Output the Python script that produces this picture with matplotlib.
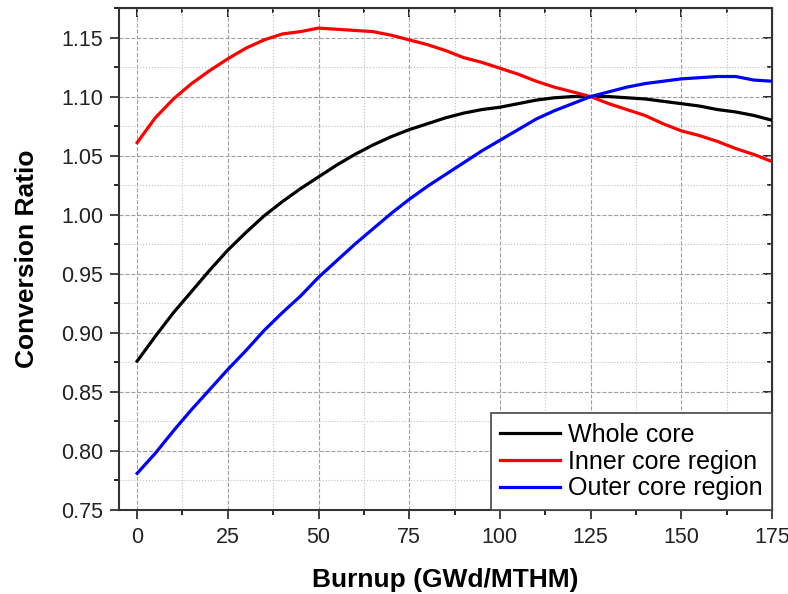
import numpy as np
import matplotlib.pyplot as plt
from matplotlib.ticker import MultipleLocator

plt.rcParams['font.family'] = ['Liberation Sans', 'DejaVu Sans']

# Burnup (GWd/MTHM) ve dönüşüm oranları
burnup = [0, 5, 10, 15, 20, 25, 30, 35, 40, 45, 50, 55, 60, 65, 70, 75, 80, 85,
          90, 95, 100, 105, 110, 115, 120, 125, 130, 135, 140, 145, 150, 155,
          160, 165, 170, 175]
whole_core = [0.876, 0.897, 0.917, 0.935, 0.953, 0.970, 0.985, 0.999, 1.011,
              1.022, 1.032, 1.042, 1.051, 1.059, 1.066, 1.072, 1.077, 1.082,
              1.086, 1.089, 1.091, 1.094, 1.097, 1.099, 1.100, 1.100, 1.100,
              1.099, 1.098, 1.096, 1.094, 1.092, 1.089, 1.087, 1.084, 1.080]
inner_core = [1.061, 1.082, 1.098, 1.111, 1.122, 1.132, 1.141, 1.148, 1.153,
              1.155, 1.158, 1.157, 1.156, 1.155, 1.152, 1.148, 1.144, 1.139,
              1.133, 1.129, 1.124, 1.119, 1.113, 1.108, 1.104, 1.100, 1.094,
              1.089, 1.084, 1.077, 1.071, 1.067, 1.062, 1.056, 1.051, 1.045]
outer_core = [0.781, 0.798, 0.817, 0.835, 0.852, 0.869, 0.885, 0.902, 0.917,
              0.931, 0.947, 0.961, 0.975, 0.988, 1.001, 1.013, 1.024, 1.034,
              1.044, 1.054, 1.063, 1.072, 1.081, 1.088, 1.094, 1.100, 1.104,
              1.108, 1.111, 1.113, 1.115, 1.116, 1.117, 1.117, 1.114, 1.113]

fig = plt.figure(figsize=(7.88, 5.94), dpi=100)
ax = fig.add_axes([119 / 788, 1 - 510 / 594, (772 - 119) / 788, (510 - 8) / 594])

lw = 2.3
ax.plot(burnup, whole_core, color='black', lw=lw, label='Whole core', zorder=3)
ax.plot(burnup, inner_core, color='#ff0000', lw=lw, label='Inner core region', zorder=3)
ax.plot(burnup, outer_core, color='#0000ff', lw=lw, label='Outer core region', zorder=3)

ax.set_xlim(-5, 175)
ax.set_ylim(0.75, 1.175)
ax.xaxis.set_major_locator(MultipleLocator(25))
ax.xaxis.set_minor_locator(MultipleLocator(12.5))
ax.yaxis.set_major_locator(MultipleLocator(0.05))
ax.yaxis.set_minor_locator(MultipleLocator(0.025))
ax.yaxis.set_major_formatter(plt.FormatStrFormatter('%.2f'))

# Izgara: ana çizgiler kesikli, ara çizgiler noktalı
ax.grid(which='major', ls='--', color='#a0a0a0', lw=0.8)
ax.grid(which='minor', ls=':', color='#c0c0c0', lw=0.8)

ax.tick_params(which='major', direction='out', length=6.5, width=1.2, labelsize=15.5,
               colors='#222222')
ax.tick_params(axis='x', which='major', pad=6)
ax.tick_params(axis='y', which='major', pad=5)
ax.tick_params(which='minor', direction='out', length=3.5, width=1.2)
for s in ax.spines.values():
    s.set_linewidth(1.5)
    s.set_color('#333333')

# Üst ve sağ kenarda içe bakan tikler
top = ax.secondary_xaxis('top')
top.xaxis.set_major_locator(MultipleLocator(25))
top.xaxis.set_minor_locator(MultipleLocator(12.5))
top.tick_params(which='major', direction='in', length=6.5, width=1.2, labeltop=False)
top.tick_params(which='minor', direction='in', length=3.5, width=1.2)
right = ax.secondary_yaxis('right')
right.yaxis.set_major_locator(MultipleLocator(0.05))
right.yaxis.set_minor_locator(MultipleLocator(0.025))
right.tick_params(which='major', direction='in', length=6.5, width=1.2, labelright=False)
right.tick_params(which='minor', direction='in', length=3.5, width=1.2)

ax.set_xlabel('Burnup (GWd/MTHM)', fontsize=19, fontweight='bold', labelpad=14)
ax.set_ylabel('Conversion Ratio', fontsize=19, fontweight='bold', labelpad=16)

leg = ax.legend(loc='lower right', fontsize=18, frameon=True, fancybox=False,
                edgecolor='#444444', framealpha=1, borderaxespad=0,
                handlelength=2.4, labelspacing=0.12, handletextpad=0.3,
                borderpad=0.38)
leg.get_frame().set_linewidth(1.2)
leg.set_zorder(5)

fig.savefig('out.png', dpi=100)
